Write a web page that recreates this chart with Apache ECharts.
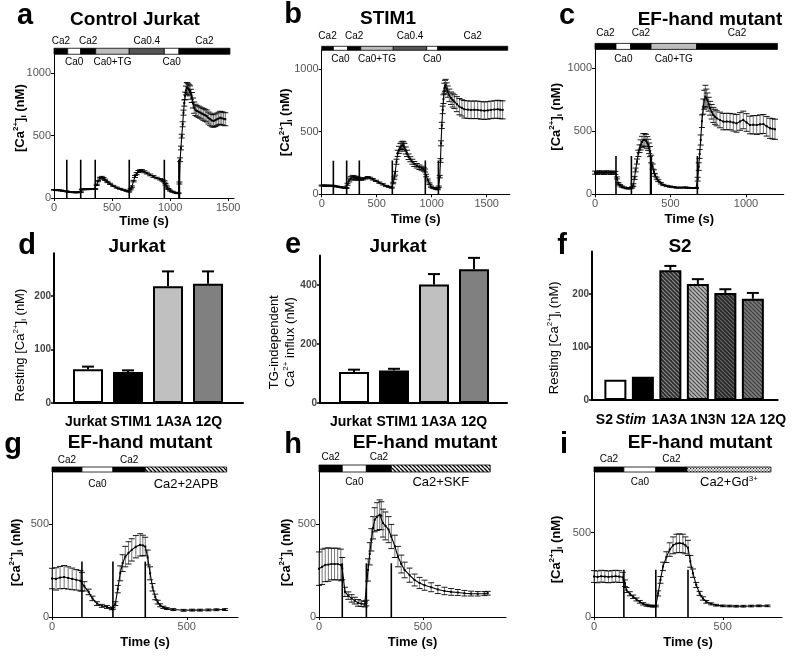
<!DOCTYPE html>
<html><head><meta charset="utf-8">
<script src="https://cdn.jsdelivr.net/npm/echarts@6/dist/echarts.min.js"></script>
<style>html,body{margin:0;padding:0;background:#fff}#c{width:800px;height:664px}</style>
</head><body><div id="c"></div><script>
// ---------------- DATA ----------------
// traces: [time (s), mean [Ca2+]i (nM), error (nM)]
const traceA = [[0,65,3],[20,63,3],[40,62,3],[60,60,3],[80,57,3],[100,55,3],[110,52,3],[130,48,3],[150,47,3],[170,46,3],[190,45,3],[210,46,3],[230,47,3],[240,68,3],[260,70,3],[280,70,3],[300,71,3],[320,71,3],[340,72,3],[355,72,3],[368,105,5],[380,135,5],[397,159,6],[411,167,6],[425,158,6],[440,145,5],[460,128,5],[483,113,5],[510,97,4],[540,83,4],[570,73,4],[598,65,4],[625,57,4],[647,51,4],[660,70,5],[670,91,6],[685,135,6],[698,172,8],[712,195,8],[727,212,8],[741,218,8],[756,220,8],[778,210,8],[799,199,7],[828,185,7],[856,172,7],[885,160,6],[914,150,6],[935,140,6],[951,132,6],[960,110,6],[971,91,5],[985,72,4],[1000,59,4],[1020,50,4],[1043,43,3],[1060,40,3],[1072,38,3],[1080,120,8],[1086,306,15],[1093,400,15],[1100,495,15],[1108,590,20],[1115,683,20],[1122,760,25],[1129,817,30],[1136,860,35],[1144,884,40],[1151,878,40],[1158,871,40],[1165,865,40],[1172,857,40],[1180,830,40],[1187,804,40],[1197,760,40],[1207,723,45],[1218,705,45],[1230,696,45],[1245,690,45],[1259,683,45],[1273,676,45],[1287,669,48],[1302,662,48],[1316,656,48],[1330,640,48],[1345,629,50],[1360,620,50],[1374,616,50],[1388,622,50],[1402,629,50],[1417,636,50],[1431,642,52],[1445,638,52],[1460,634,52],[1475,630,52]];
const traceB = [[0,70,4],[20,70,4],[40,69,4],[60,69,4],[80,68,4],[100,68,4],[115,66,4],[140,62,4],[165,58,4],[190,55,4],[210,52,4],[225,50,4],[235,80,8],[251,114,15],[265,128,15],[282,136,15],[297,132,15],[312,128,15],[327,125,12],[342,125,10],[357,122,8],[373,120,6],[395,128,6],[418,136,6],[440,130,6],[464,120,6],[494,107,5],[524,93,5],[555,80,5],[585,67,4],[610,60,4],[636,53,4],[650,90,6],[660,130,10],[667,168,15],[680,260,20],[691,327,25],[703,355,28],[715,375,30],[725,388,30],[736,394,30],[744,388,30],[752,375,30],[764,350,28],[776,327,25],[790,300,22],[806,280,20],[824,260,20],[842,242,20],[865,228,18],[888,216,18],[908,208,16],[927,200,15],[940,190,12],[950,150,10],[964,114,8],[980,85,6],[994,61,5],[1010,52,4],[1024,48,4],[1040,44,4],[1055,40,4],[1064,60,6],[1073,141,10],[1080,270,15],[1085,407,20],[1092,550,25],[1100,674,30],[1107,760,35],[1115,847,40],[1121,865,45],[1127,873,45],[1136,845,45],[1145,820,45],[1160,790,50],[1176,767,50],[1191,752,55],[1206,740,55],[1229,720,60],[1252,700,65],[1275,690,65],[1297,679,70],[1328,676,70],[1358,674,70],[1388,675,70],[1418,674,70],[1449,670,70],[1479,668,70],[1509,670,70],[1539,674,70],[1570,677,70],[1600,679,72],[1622,676,72],[1645,674,72]];
const traceC = [[0,172,12],[15,170,12],[30,175,12],[45,172,12],[60,170,12],[75,175,12],[90,172,12],[105,170,12],[120,173,12],[135,170,12],[145,130,8],[155,87,6],[166,72,5],[177,61,5],[193,54,4],[210,48,4],[224,47,4],[236,48,4],[246,55,5],[254,74,10],[262,130,12],[269,193,15],[278,260,20],[287,325,25],[295,362,30],[302,392,40],[311,415,45],[320,431,50],[329,432,50],[338,426,50],[346,410,48],[353,392,45],[359,365,42],[364,339,40],[372,280,30],[382,220,20],[390,180,14],[397,153,10],[408,128,8],[419,108,7],[436,88,6],[453,74,5],[475,66,5],[497,61,5],[520,57,4],[541,53,4],[568,53,4],[596,54,4],[612,52,4],[629,50,4],[650,50,4],[669,50,4],[680,120,15],[687,220,30],[693,320,35],[700,431,40],[708,580,50],[717,696,60],[724,750,75],[731,775,90],[737,765,70],[744,749,55],[753,715,55],[762,683,55],[773,655,58],[784,630,60],[795,615,60],[806,603,60],[828,590,62],[850,577,65],[872,578,65],[894,577,65],[916,570,68],[938,563,70],[960,578,70],[982,590,70],[1004,570,70],[1026,550,70],[1048,552,72],[1071,550,75],[1093,555,75],[1115,558,75],[1137,540,78],[1159,524,80],[1176,520,80],[1192,516,80]];
const traceG = [[0,207,55],[15,205,60],[30,212,60],[45,215,62],[60,210,60],[75,205,58],[90,200,55],[105,195,55],[111,190,50],[120,165,25],[136,135,15],[150,100,12],[167,72,10],[185,60,8],[204,54,8],[222,45,6],[226,48,6],[235,72,10],[244,150,20],[253,235,40],[262,290,45],[272,325,55],[284,345,60],[296,361,60],[311,378,60],[327,388,60],[337,385,55],[346,379,50],[355,320,40],[364,235,35],[373,160,20],[383,108,15],[392,80,10],[401,63,8],[413,52,6],[426,45,5],[450,40,5],[488,36,5],[520,37,5],[549,37,5],[580,38,5],[610,39,5],[642,40,5]];
const traceH = [[0,260,90],[15,270,95],[30,280,90],[45,282,90],[60,285,85],[75,285,85],[90,285,85],[105,280,85],[112,260,60],[125,135,25],[141,115,20],[157,100,20],[172,88,18],[188,76,18],[204,72,15],[220,69,15],[228,75,15],[236,253,60],[244,340,60],[252,415,60],[260,480,60],[268,523,65],[280,540,75],[292,550,80],[300,545,75],[308,505,75],[320,490,75],[335,470,70],[348,433,65],[365,380,60],[380,325,55],[396,285,48],[412,253,42],[436,225,38],[460,199,32],[484,183,30],[508,171,27],[540,160,24],[572,148,22],[604,140,20],[636,135,18],[668,132,16],[700,128,15],[732,126,13],[764,125,12],[796,126,11],[812,128,10]];
const traceI = [[0,240,35],[14,238,35],[28,242,35],[42,240,35],[56,238,35],[70,240,35],[84,242,35],[98,240,35],[112,235,30],[120,200,20],[126,160,15],[139,138,12],[152,120,10],[165,104,9],[178,90,8],[191,78,7],[204,70,6],[217,66,5],[229,64,5],[240,65,5],[249,140,15],[258,220,20],[268,300,25],[281,355,32],[294,400,40],[307,425,50],[320,436,55],[332,438,55],[345,436,55],[355,425,50],[365,410,45],[374,330,35],[384,260,25],[397,190,15],[410,140,12],[423,110,10],[436,90,8],[455,78,6],[474,70,5],[500,66,5],[526,65,5],[552,64,5],[580,64,5],[610,65,5],[640,66,5],[674,66,5]];
// solution-exchange artefact lines: [time, height]
const marksA = [[110,306],[230,306],[355,306],[648,306],[950,306],[1076,306],[1080,306]];
const marksB = [[106,268],[227,270],[342,270],[642,270],[942,270],[1061,270]];
const marksC = [[139,304],[241,304],[368,300],[372,300],[678,304]];
const marksG = [[111,298],[226,298],[346,298]];
const marksH = [[112,289],[228,289],[348,289]];
const marksI = [[116,280],[240,280],[365,280]];
// protocol bars: [fill, start, end, label, label side]
const protoA = [['k',0,118,'Ca2','up'],['w',118,230,'Ca0','down'],['k',230,359,'Ca2','up'],['lg',359,648,'Ca0+TG','down'],['dg',648,950,'Ca0.4','up'],['w',950,1076,'Ca0','down'],['k',1076,1515,'Ca2','up']];
const protoB = [['k',0,106,'Ca2','up'],['w',106,236,'Ca0','down'],['k',236,355,'Ca2','up'],['lg',355,651,'Ca0+TG','down'],['dg',651,955,'Ca0.4','up'],['w',955,1055,'Ca0','down'],['k',1055,1691,'Ca2','up']];
const protoC = [['k',0,139,'Ca2','up'],['w',139,236,'Ca0','down'],['k',236,371,'Ca2','up'],['lg',371,673,'Ca0+TG','down'],['k',673,1208,'Ca2','up']];
const protoG = [['k',0,111,'Ca2','up'],['w',111,226,'Ca0','down'],['k',226,346,'Ca2','up'],['hs',346,648,'Ca2+2APB','big']];
const protoH = [['k',0,112,'Ca2','up'],['w',112,228,'Ca0','down'],['k',228,348,'Ca2','up'],['hs',348,824,'Ca2+SKF','big']];
const protoI = [['k',0,116,'Ca2','up'],['w',116,240,'Ca0','down'],['k',240,361,'Ca2','up'],['dt',361,687,'Ca2+Gd{s|3+}','big']];
// bar panels
const dCats = ['Jurkat','STIM1','1A3A','12Q'];
const dVals = [63,58,218,223];
const dErr  = [5,3,28,23];
const eCats = ['Jurkat','STIM1','1A3A','12Q'];
const eVals = [105,110,402,453];
const eErr  = [8,6,35,39];
const fCats = ['S2','Stim','1A3A','1N3N','12A','12Q'];
const fVals = [38,44,245,219,202,191];
const fErr  = [0,0,8,9,7,11];
const timeTicksA = [0,500,1000,1500];
const timeTicksC = [0,500,1000];
const timeTicksG = [0,500];
const caTicks = [0,500,1000];
const caTicksG = [0,500];
const dTicks = [0,100,200];
const eTicks = [0,200,400];
const fTicks = [0,100,200];

// ---------------- STYLE / LAYOUT ----------------
const FONT = "'Liberation Sans', Arial, Helvetica, sans-serif";
function hatch(bg, fg, size, lw){
  const c=document.createElement('canvas'); c.width=c.height=size;
  const g=c.getContext('2d'); g.fillStyle=bg; g.fillRect(0,0,size,size);
  g.strokeStyle=fg; g.lineWidth=lw; g.beginPath();
  for(let k=-1;k<=1;k++){ g.moveTo(k*size,0); g.lineTo(k*size+size,size); }
  g.stroke(); return {image:c, repeat:'repeat'};
}
function dots(bg, fg, size){
  const c=document.createElement('canvas'); c.width=c.height=size;
  const g=c.getContext('2d'); g.fillStyle=bg; g.fillRect(0,0,size,size);
  g.fillStyle=fg; g.fillRect(0,0,1.2,1.2); g.fillRect(size/2,size/2,1.2,1.2);
  return {image:c, repeat:'repeat'};
}
const fills = {k:'#000', w:'#fff', lg:'#bdbdbd', dg:'#555', hs:hatch('#fff','#000',4,1.3), dt:dots('#fff','#222',3)};
const plain = v => String(v);
// shift of a rotated axis name along the axis (px, + = upward) via padding
const shiftPad = s => s>=0 ? [0,0,0,2*s] : [0,-2*s,0,0];

const ca = 'Ca{sup|2+}';
const richName = {
  sup:{fontSize:8, fontWeight:'bold', fontFamily:FONT, verticalAlign:'top', lineHeight:16},
  sub:{fontSize:8, fontWeight:'bold', fontFamily:FONT, verticalAlign:'bottom', lineHeight:16}
};

const tracePanels = [
 {g:[54,54.25,180,143.75], x:[0,1550], y:[0,1150], xt:timeTicksA, yt:caTicks, trace:traceA, marks:marksA, proto:protoA, barPx:6, upOff:7, downOff:8, xg:17, yg:26, ns:8},
 {g:[321.7,50.3,188.1,144], x:[0,1710], y:[0,1150], xt:timeTicksA, yt:caTicks, trace:traceB, marks:marksB, proto:protoB, barPx:4, upOff:10, downOff:8.5, xg:19, yg:28, ns:0},
 {g:[595,49.4,188.75,144.9], x:[0,1250], y:[0,1150], xt:timeTicksC, yt:caTicks, trace:traceC, marks:marksC, proto:protoC, barPx:6, upOff:10, downOff:9.5, xg:19, yg:31, ns:5},
 {g:[52,472,186,145], x:[0,690], y:[0,780], xt:timeTicksG, yt:caTicksG, trace:traceG, marks:marksG, proto:protoG, barPx:5, upOff:6.5, downOff:12, xg:19, yg:28, ns:-8},
 {g:[319,472,187,145], x:[0,900], y:[0,780], xt:timeTicksG, yt:caTicksG, trace:traceH, marks:marksH, proto:protoH, barPx:7, upOff:7.3, downOff:10.5, xg:19, yg:25, ns:-8},
 {g:[594,472,188,145], x:[0,730], y:[0,860], xt:timeTicksG, yt:caTicksG, trace:traceI, marks:marksI, proto:protoI, barPx:5, upOff:8, downOff:10, xg:19, yg:30, ns:-5}
];

const barPanels = [
 {g:[54,253.2,189,149.8], x:[-0.85,3.875], y:[0,280], yt:dTicks, cats:dCats, vals:dVals, err:dErr, bw:30,
  colors:['#fff','#000','#c0c0c0','#808080'], name:'Resting ['+ca+']{sub|i} (nM)', yg:26, ns:-17, shift:[-2,3,6,1], lm:12},
 {g:[320,255.5,187,147.5], x:[-0.85,3.825], y:[0,500], yt:eTicks, cats:eCats, vals:eVals, err:eErr, bw:30,
  colors:['#fff','#000','#c0c0c0','#808080'], name:'TG-independent\n'+ca+' influx (nM)', yg:22, ns:-13, shift:[-3,3,5,0], lm:12},
 {g:[592,251.6,185.6,148.4], x:[-0.85,5.9], y:[0,280], yt:fTicks, cats:fCats, vals:fVals, err:fErr, bw:22,
  colors:['#fff','#000',hatch('#2e2e2e','#8a8a8a',4,1.2),hatch('#b4b4b4','#4a4a4a',4,1.2),hatch('#262626','#6a6a6a',4,1.2),hatch('#7a7a7a','#3a3a3a',4,1.2)],
  name:'Resting ['+ca+']{sub|i} (nM)', yg:30, ns:-12, shift:[-11,-12,-1,10,18,20], lm:13}
];

const option = {animation:false, grid:[], xAxis:[], yAxis:[], series:[], graphic:[]};
let k = 0;
tracePanels.forEach(p=>{
  option.grid.push({left:p.g[0], top:p.g[1], width:p.g[2], height:p.g[3]});
  option.xAxis.push({type:'value', gridIndex:k, min:p.x[0], max:p.x[1],
    name:'Time (s)', nameLocation:'middle', nameGap:p.xg, nameMoveOverlap:false,
    nameTextStyle:{fontFamily:FONT, fontWeight:'bold', fontSize:13, color:'#000'},
    axisLine:{onZero:false, lineStyle:{color:'#000', width:1}},
    axisTick:{customValues:p.xt, length:3, lineStyle:{color:'#000'}},
    axisLabel:{customValues:p.xt, formatter:plain, color:'#555', fontSize:11, margin:4, fontFamily:FONT},
    splitLine:{show:false}});
  option.yAxis.push({type:'value', gridIndex:k, min:p.y[0], max:p.y[1],
    name:'['+ca+']{sub|i} (nM)', nameLocation:'middle', nameRotate:90, nameGap:p.yg, nameMoveOverlap:false,
    nameTextStyle:{fontFamily:FONT, fontWeight:'bold', fontSize:13, color:'#000', rich:richName, padding:shiftPad(p.ns)},
    axisLine:{show:true, onZero:false, lineStyle:{color:'#000', width:1}},
    axisTick:{customValues:p.yt, length:3, lineStyle:{color:'#000'}},
    axisLabel:{customValues:p.yt, formatter:plain, color:'#555', fontSize:11, margin:3, fontFamily:FONT},
    splitLine:{show:false}});
  const idx = k;
  option.series.push({type:'custom', xAxisIndex:idx, yAxisIndex:idx, z:2,
    data:p.trace.map(d=>[d[0], d[1]-d[2], d[1]+d[2]]), encode:{x:0, y:[1,2]},
    renderItem:(params, api)=>{
      const t=api.value(0), lo=api.coord([t,api.value(1)]), hi=api.coord([t,api.value(2)]);
      const w=3;
      return {type:'group', children:[
        {type:'line', shape:{x1:lo[0],y1:lo[1],x2:hi[0],y2:hi[1]}, style:{stroke:'#666', lineWidth:0.9}},
        {type:'line', shape:{x1:hi[0]-w,y1:hi[1],x2:hi[0]+w,y2:hi[1]}, style:{stroke:'#000', lineWidth:0.9}},
        {type:'line', shape:{x1:lo[0]-w,y1:lo[1],x2:lo[0]+w,y2:lo[1]}, style:{stroke:'#000', lineWidth:0.9}}
      ]};
    }});
  option.series.push({type:'line', xAxisIndex:idx, yAxisIndex:idx, z:3,
    data:p.trace.map(d=>[d[0],d[1]]), symbol:'rect', symbolSize:2, showSymbol:true,
    itemStyle:{color:'#000'}, lineStyle:{color:'#000', width:1.1}});
  option.series.push({type:'custom', xAxisIndex:idx, yAxisIndex:idx, z:4,
    data:p.marks, encode:{x:0, y:1},
    renderItem:(params, api)=>{
      const a=api.coord([api.value(0),0]), b=api.coord([api.value(0),api.value(1)]);
      return {type:'line', shape:{x1:a[0],y1:a[1],x2:b[0],y2:b[1]}, style:{stroke:'#000', lineWidth:1.6}};
    }});
  option.series.push({type:'custom', xAxisIndex:idx, yAxisIndex:idx, z:5, clip:false,
    data:p.proto.map(s=>[s[1], s[2], p.y[1]]), encode:{x:[0,1], y:2},
    renderItem:(params, api)=>{
      const seg=p.proto[params.dataIndex];
      const L=api.coord([api.value(0), api.value(2)]), R=api.coord([api.value(1), api.value(2)]);
      const bottom=L[1], top=bottom-p.barPx;
      const ch=[{type:'rect', shape:{x:L[0], y:top, width:R[0]-L[0], height:p.barPx},
        style:{fill:fills[seg[0]], stroke:'#000', lineWidth:0.8}}];
      if(seg[3]){
        const big = seg[4]==='big';
        ch.push({type:'text', x:(L[0]+R[0])/2, y: seg[4]==='up' ? top-p.upOff : bottom+p.downOff,
          style:{text:seg[3], fontFamily:FONT, fontSize: big?13:10, fill:'#000',
            textAlign:'center', textVerticalAlign:'middle',
            rich:{s:{fontSize:8, fontFamily:FONT, verticalAlign:'top', lineHeight:14}}}});
      }
      return {type:'group', children:ch};
    }});
  k++;
});

barPanels.forEach(p=>{
  const idx=k;
  option.grid.push({left:p.g[0], top:p.g[1], width:p.g[2], height:p.g[3]});
  const cv = p.cats.map((c,i)=>i);
  const rich = {};
  p.cats.forEach((c,i)=>{
    const s=p.shift[i];
    rich['c'+i] = {fontSize:14, fontWeight:'bold', fontFamily:FONT, color:'#000',
      fontStyle: c==='Stim' ? 'italic' : 'normal',
      padding: s>=0 ? [0,0,0,2*s] : [0,-2*s,0,0]};
  });
  option.xAxis.push({type:'value', gridIndex:idx, min:p.x[0], max:p.x[1],
    axisLine:{onZero:false, lineStyle:{color:'#000', width:2}}, axisTick:{show:false},
    axisLabel:{customValues:cv, color:'#000', fontSize:14, fontWeight:'bold', fontFamily:FONT, margin:p.lm,
      formatter:(v)=> '{c'+v+'|'+p.cats[v]+'}', rich:rich},
    splitLine:{show:false}});
  option.yAxis.push({type:'value', gridIndex:idx, min:p.y[0], max:p.y[1],
    name:p.name, nameLocation:'middle', nameRotate:90, nameGap:p.yg, nameMoveOverlap:false,
    nameTextStyle:{fontFamily:FONT, fontSize:13, color:'#000', lineHeight:16, padding:shiftPad(p.ns),
      rich:{sup:{fontSize:8, fontFamily:FONT, verticalAlign:'top', lineHeight:16}, sub:{fontSize:8, fontFamily:FONT, verticalAlign:'bottom', lineHeight:16}}},
    axisLine:{show:true, onZero:false, lineStyle:{color:'#000', width:2}},
    axisTick:{customValues:p.yt, length:3, lineStyle:{color:'#000', width:1.5}},
    axisLabel:{customValues:p.yt, formatter:plain, color:'#444', fontSize:10, fontWeight:'bold', margin:3, fontFamily:FONT},
    splitLine:{show:false}});
  option.series.push({type:'bar', xAxisIndex:idx, yAxisIndex:idx, barWidth:p.bw, z:2,
    data:p.vals.map((v,i)=>({value:[i,v], itemStyle:{color:p.colors[i]}})),
    itemStyle:{borderColor:'#000', borderWidth:2}});
  option.series.push({type:'custom', xAxisIndex:idx, yAxisIndex:idx, z:1,
    data:p.vals.map((v,i)=>[i,v,v+p.err[i]]), encode:{x:0, y:[1,2]},
    renderItem:(params, api)=>{
      if (api.value(2)-api.value(1) <= 0) return null;
      const lo=api.coord([api.value(0),api.value(1)]), hi=api.coord([api.value(0),api.value(2)]);
      return {type:'group', children:[
        {type:'line', shape:{x1:lo[0],y1:lo[1],x2:hi[0],y2:hi[1]}, style:{stroke:'#000', lineWidth:2}},
        {type:'line', shape:{x1:hi[0]-6,y1:hi[1],x2:hi[0]+6,y2:hi[1]}, style:{stroke:'#000', lineWidth:2}}
      ]};
    }});
  k++;
});

const heads = [
  ['a',25,15.5,'L'],['Control Jurkat',135,19.5,'T'],
  ['b',293,15,'L'],['STIM1',388,19,'T'],
  ['c',567,15.5,'L'],['EF-hand mutant',710,19.5,'T'],
  ['d',27,246,'L'],['Jurkat',137,246.5,'T'],
  ['e',293,245,'L'],['Jurkat',398,246.5,'T'],
  ['f',562,246,'L'],['S2',680,246.5,'T'],
  ['g',13,445,'L'],['EF-hand mutant',140,443,'T'],
  ['h',293,445,'L'],['EF-hand mutant',425,443,'T'],
  ['i',564,445,'L'],['EF-hand mutant',700,443,'T']
];
heads.forEach(h=>{
  option.graphic.push({type:'text', x:h[1], y:h[2], z:100,
    style:{text:h[0], fill:'#000', fontFamily:FONT, fontWeight:'bold', fontSize: h[3]==='L'?29:19,
      textAlign:'center', textVerticalAlign:'middle'}});
});

const chart = echarts.init(document.getElementById('c'), null, {renderer:'canvas'});
chart.setOption(option);
</script></body></html>
